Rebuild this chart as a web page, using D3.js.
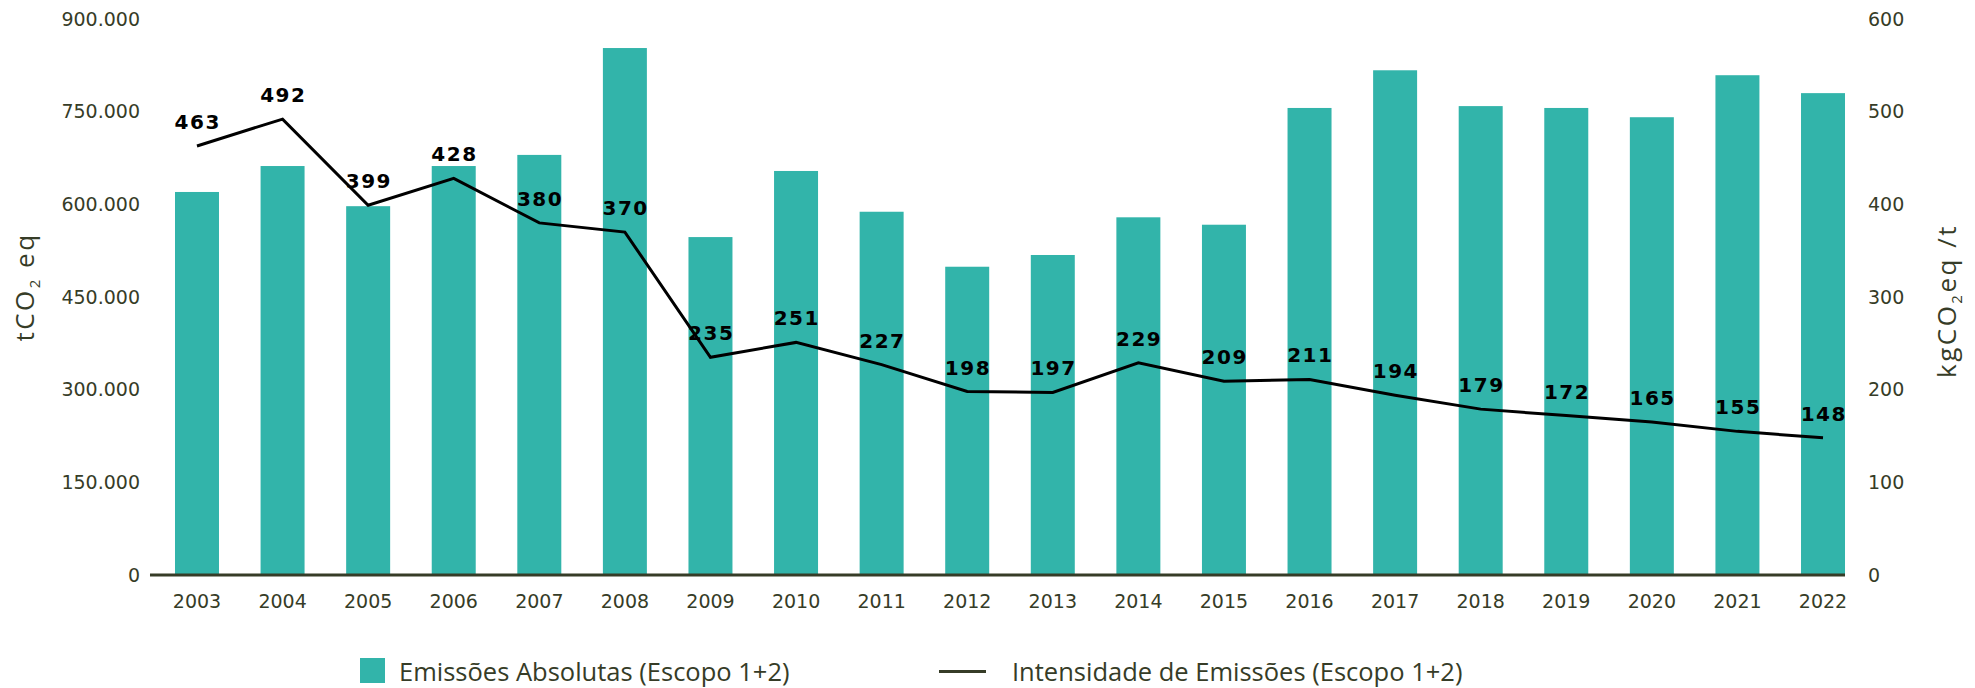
<!DOCTYPE html>
<html>
<head>
<meta charset="utf-8">
<script src="https://cdn.jsdelivr.net/npm/d3@7"></script>
<style>
  html, body { margin: 0; padding: 0; background: #ffffff; }
  svg { display: block; }
</style>
</head>
<body>
<svg id="chart" width="1975" height="688"></svg>
<script>
// ---------------- DATA ----------------
const years = ["2003","2004","2005","2006","2007","2008","2009","2010","2011","2012",
               "2013","2014","2015","2016","2017","2018","2019","2020","2021","2022"];
const absoluteEmissions = [620000, 662000, 597000, 662000, 680000, 853000, 547000, 654000, 588000, 499000,
                           518000, 579000, 567000, 756000, 817000, 759000, 756000, 741000, 809000, 780000];
const intensity = [463, 492, 399, 428, 380, 370, 235, 251, 227, 198,
                   197, 229, 209, 211, 194, 179, 172, 165, 155, 148];
const leftTicks = [0, 150000, 300000, 450000, 600000, 750000, 900000];
const rightTicks = [0, 100, 200, 300, 400, 500, 600];
const legendLabels = ["Emissões Absolutas (Escopo 1+2)", "Intensidade de Emissões (Escopo 1+2)"];

// ---------------- STYLE ----------------
const TEAL = "#32b4aa";
const TEXT = "#363c27";
const tickFont = "'DejaVu Sans', sans-serif";
const textFont = "'Open Sans', sans-serif";

const svg = d3.select("#chart");

const x = d3.scaleBand()
  .domain(years)
  .range([154.2, 1865.8])
  .paddingInner(0.486)
  .paddingOuter(0.243);

const yL = d3.scaleLinear().domain([0, 900000]).range([575, 19]);
const yR = d3.scaleLinear().domain([0, 600]).range([575, 19]);

const locale = d3.formatLocale({ decimal: ",", thousands: ".", grouping: [3], currency: ["", ""] });
const fmtL = locale.format(",d");

// Bars
svg.append("g").selectAll("rect")
  .data(years)
  .join("rect")
  .attr("x", d => x(d))
  .attr("y", (d, i) => yL(absoluteEmissions[i]))
  .attr("width", x.bandwidth())
  .attr("height", (d, i) => yL(0) - yL(absoluteEmissions[i]))
  .attr("fill", TEAL);

// Baseline
svg.append("line")
  .attr("x1", x(years[0]) - 25)
  .attr("x2", x(years[years.length - 1]) + x.bandwidth())
  .attr("y1", yL(0)).attr("y2", yL(0))
  .attr("stroke", TEXT)
  .attr("stroke-width", 3);

// Left axis
const leftAxis = svg.append("g")
  .attr("transform", `translate(${x(years[0]) - 25},0)`)
  .call(d3.axisLeft(yL).tickValues(leftTicks).tickFormat(fmtL).tickSize(0).tickPadding(10));
leftAxis.select(".domain").remove();
leftAxis.selectAll("text")
  .attr("font-family", tickFont).attr("font-size", 19).attr("fill", TEXT);

// Right axis
const rightAxis = svg.append("g")
  .attr("transform", "translate(1858,0)")
  .call(d3.axisRight(yR).tickValues(rightTicks).tickSize(0).tickPadding(10));
rightAxis.select(".domain").remove();
rightAxis.selectAll("text")
  .attr("font-family", tickFont).attr("font-size", 19).attr("fill", TEXT);

// Bottom axis
const bottomAxis = svg.append("g")
  .attr("transform", `translate(0,${yL(0)})`)
  .call(d3.axisBottom(x).tickSize(0).tickPadding(20));
bottomAxis.select(".domain").remove();
bottomAxis.selectAll("text")
  .attr("font-family", tickFont).attr("font-size", 19).attr("fill", TEXT);

// Line
const line = d3.line()
  .x((d, i) => x(years[i]) + x.bandwidth() / 2)
  .y(d => yR(d));
svg.append("path")
  .datum(intensity)
  .attr("d", line)
  .attr("fill", "none")
  .attr("stroke", "#000")
  .attr("stroke-width", 3)
  .attr("stroke-linejoin", "miter");

// Line labels
svg.append("g").selectAll("text")
  .data(intensity)
  .join("text")
  .attr("x", (d, i) => x(years[i]) + x.bandwidth() / 2 + 0.75)
  .attr("y", d => yR(d) - 17)
  .attr("text-anchor", "middle")
  .attr("font-family", "'DejaVu Sans', sans-serif")
  .attr("font-weight", "bold")
  .attr("font-size", 20)
  .attr("letter-spacing", 1.5)
  .attr("fill", "#000")
  .text(d => d);

// Axis titles
const lt = svg.append("text")
  .attr("transform", "translate(34,287) rotate(-90)")
  .attr("text-anchor", "middle")
  .attr("font-family", textFont).attr("font-size", 26).attr("letter-spacing", 2.5).attr("fill", TEXT);
lt.append("tspan").text("tCO");
lt.append("tspan").attr("font-size", 15).attr("dy", 6).text("2");
lt.append("tspan").attr("dy", -6).text(" eq");

const rt = svg.append("text")
  .attr("transform", "translate(1956,301) rotate(-90)")
  .attr("text-anchor", "middle")
  .attr("font-family", textFont).attr("font-size", 26).attr("letter-spacing", 2.5).attr("fill", TEXT);
rt.append("tspan").text("kgCO");
rt.append("tspan").attr("font-size", 15).attr("dy", 6).text("2");
rt.append("tspan").attr("dy", -6).text("eq /t");

// Legend
const legend = svg.append("g");
legend.append("rect")
  .attr("x", 360).attr("y", 658).attr("width", 25).attr("height", 25)
  .attr("fill", TEAL);
legend.append("text")
  .attr("x", 399).attr("y", 681)
  .attr("font-family", textFont).attr("font-size", 25.5).attr("fill", TEXT)
  .text(legendLabels[0]);
legend.append("line")
  .attr("x1", 939).attr("x2", 986).attr("y1", 671.5).attr("y2", 671.5)
  .attr("stroke", TEXT).attr("stroke-width", 3);
legend.append("text")
  .attr("x", 1012).attr("y", 681)
  .attr("font-family", textFont).attr("font-size", 25.5).attr("fill", TEXT)
  .text(legendLabels[1]);
</script>
</body>
</html>
